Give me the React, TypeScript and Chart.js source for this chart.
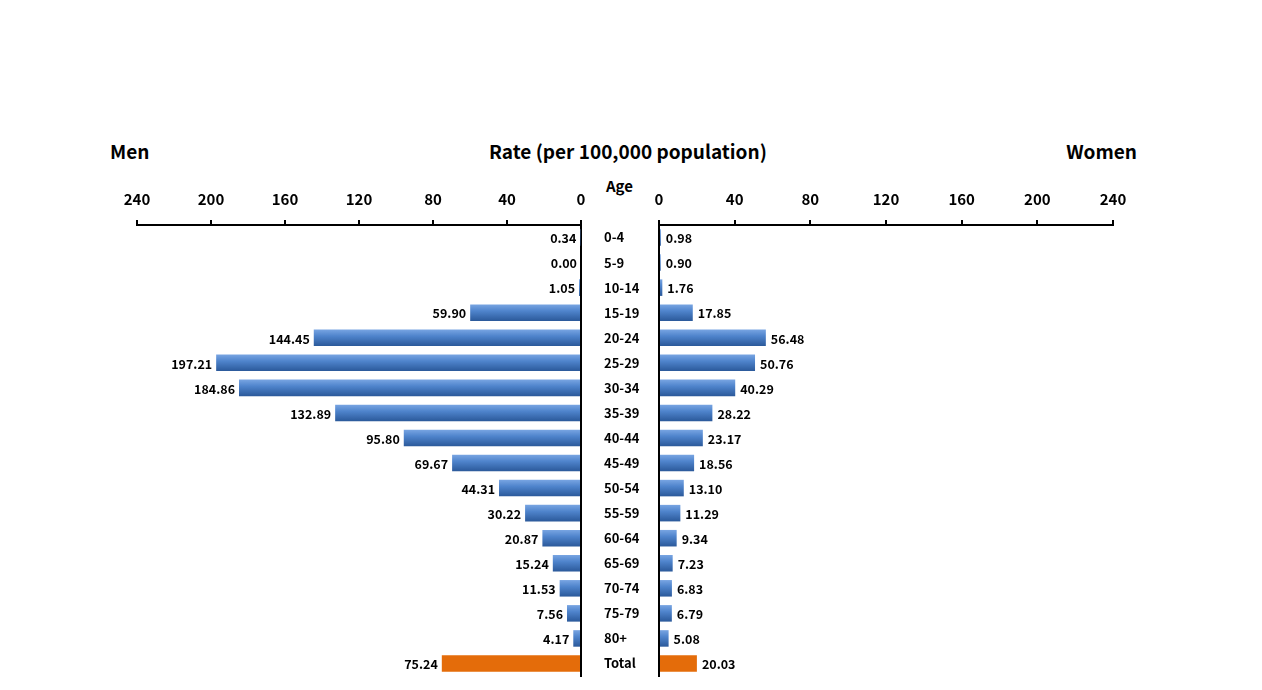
import React, { useEffect, useRef } from 'react';
import { Chart, registerables } from 'chart.js';

Chart.register(...registerables);

const ageGroups = ['0-4', '5-9', '10-14', '15-19', '20-24', '25-29', '30-34', '35-39', '40-44', '45-49', '50-54', '55-59', '60-64', '65-69', '70-74', '75-79', '80+', 'Total'];
const menRates = [0.34, 0.0, 1.05, 59.9, 144.45, 197.21, 184.86, 132.89, 95.8, 69.67, 44.31, 30.22, 20.87, 15.24, 11.53, 7.56, 4.17, 75.24];
const womenRates = [0.98, 0.9, 1.76, 17.85, 56.48, 50.76, 40.29, 28.22, 23.17, 18.56, 13.1, 11.29, 9.34, 7.23, 6.83, 6.79, 5.08, 20.03];
const axisMin = 0;
const axisMax = 240;
const axisStep = 40;

const FONT = '"Noto Sans CJK KR", "Noto Sans", sans-serif';

function barColor(ctx: any) {
  const chart = ctx.chart;
  const i = ctx.dataIndex;
  if (i === ageGroups.length - 1) return '#e46c0a';
  const ys = chart.scales && chart.scales.y;
  if (!chart.chartArea || !ys || typeof i !== 'number') return '#4a7fc8';
  const y = ys.getPixelForValue(i);
  const h = 8.5;
  const g = chart.ctx.createLinearGradient(0, y - h, 0, y + h);
  g.addColorStop(0, '#7aa6e3');
  g.addColorStop(0.4, '#4f84cc');
  g.addColorStop(1, '#2a5899');
  return g;
}

const valueLabels = {
  id: 'valueLabels',
  afterDatasetsDraw(chart: any, _args: any, opts: any) {
    const c = chart.ctx;
    const meta = chart.getDatasetMeta(0);
    const data = chart.data.datasets[0].data as number[];
    c.save();
    c.font = `bold 12.5px ${FONT}`;
    c.fillStyle = '#000';
    c.textBaseline = 'middle';
    c.textAlign = opts.side === 'left' ? 'right' : 'left';
    meta.data.forEach((el: any, i: number) => {
      const x = opts.side === 'left' ? el.x - 4 : el.x + 5;
      c.fillText(data[i].toFixed(2), x, el.y + 1);
    });
    c.restore();
  },
};

function makeConfig(values: number[], side: 'left' | 'right'): any {
  const left = side === 'left';
  return {
    type: 'bar',
    data: {
      labels: ageGroups,
      datasets: [
        {
          data: values,
          backgroundColor: barColor,
          barPercentage: 0.66,
          categoryPercentage: 1,
        },
      ],
    },
    options: {
      indexAxis: 'y',
      animation: false,
      responsive: false,
      maintainAspectRatio: false,
      layout: { padding: left ? { left: 77, right: 0, top: 0, bottom: 3 } : { left: 0, right: 87, top: 0, bottom: 3 } },
      plugins: {
        legend: { display: false },
        tooltip: { enabled: false },
        valueLabels: { side },
      },
      scales: {
        x: {
          position: 'top',
          reverse: left,
          min: axisMin,
          max: axisMax,
          ticks: {
            stepSize: axisStep,
            color: '#000',
            font: { family: FONT, size: 15, weight: 'bold' },
            padding: 12,
            maxRotation: 0,
          },
          grid: { display: true, drawOnChartArea: false, drawTicks: true, tickLength: 5, color: '#000', lineWidth: 2 },
          border: { display: true, color: '#000', width: 2 },
          afterFit: (s: any) => {
            s.height = 66;
          },
        },
        y: {
          position: left ? 'right' : 'left',
          ticks: {
            display: left,
            color: '#000',
            font: { family: FONT, size: 13, weight: 'bold' },
            padding: 23,
            crossAlign: 'near',
          },
          grid: { display: false, drawTicks: false },
          border: { display: true, color: '#000', width: 2 },
          afterFit: (s: any) => {
            s.width = 59;
            s.paddingTop = 0;
            s.paddingBottom = 0;
          },
        },
      },
    },
    plugins: [valueLabels],
  };
}

export default function App() {
  const leftRef = useRef<HTMLCanvasElement>(null);
  const rightRef = useRef<HTMLCanvasElement>(null);

  useEffect(() => {
    const l = new Chart(leftRef.current as HTMLCanvasElement, makeConfig(menRates, 'left'));
    const r = new Chart(rightRef.current as HTMLCanvasElement, makeConfig(womenRates, 'right'));
    return () => {
      l.destroy();
      r.destroy();
    };
  }, []);

  const titleStyle: React.CSSProperties = {
    position: 'absolute',
    fontFamily: FONT,
    fontWeight: 700,
    fontSize: 19,
    lineHeight: '24px',
    color: '#000',
    whiteSpace: 'nowrap',
  };

  return (
    <div style={{ position: 'fixed', left: 0, top: 0, width: 1262, height: 690, background: '#fff', overflow: 'hidden' }}>
      <div style={{ ...titleStyle, left: 110, top: 139 }}>Men</div>
      <div style={{ ...titleStyle, left: 489, top: 139 }}>Rate (per 100,000 population)</div>
      <div style={{ ...titleStyle, right: 125, top: 139 }}>Women</div>
      <div style={{ ...titleStyle, fontSize: 15, lineHeight: '18px', left: 606, top: 177 }}>Age</div>
      <canvas ref={leftRef} width={580} height={520} style={{ position: 'absolute', left: 60, top: 159, width: 580, height: 520 }} />
      <canvas ref={rightRef} width={600} height={520} style={{ position: 'absolute', left: 600, top: 159, width: 600, height: 520 }} />
    </div>
  );
}
